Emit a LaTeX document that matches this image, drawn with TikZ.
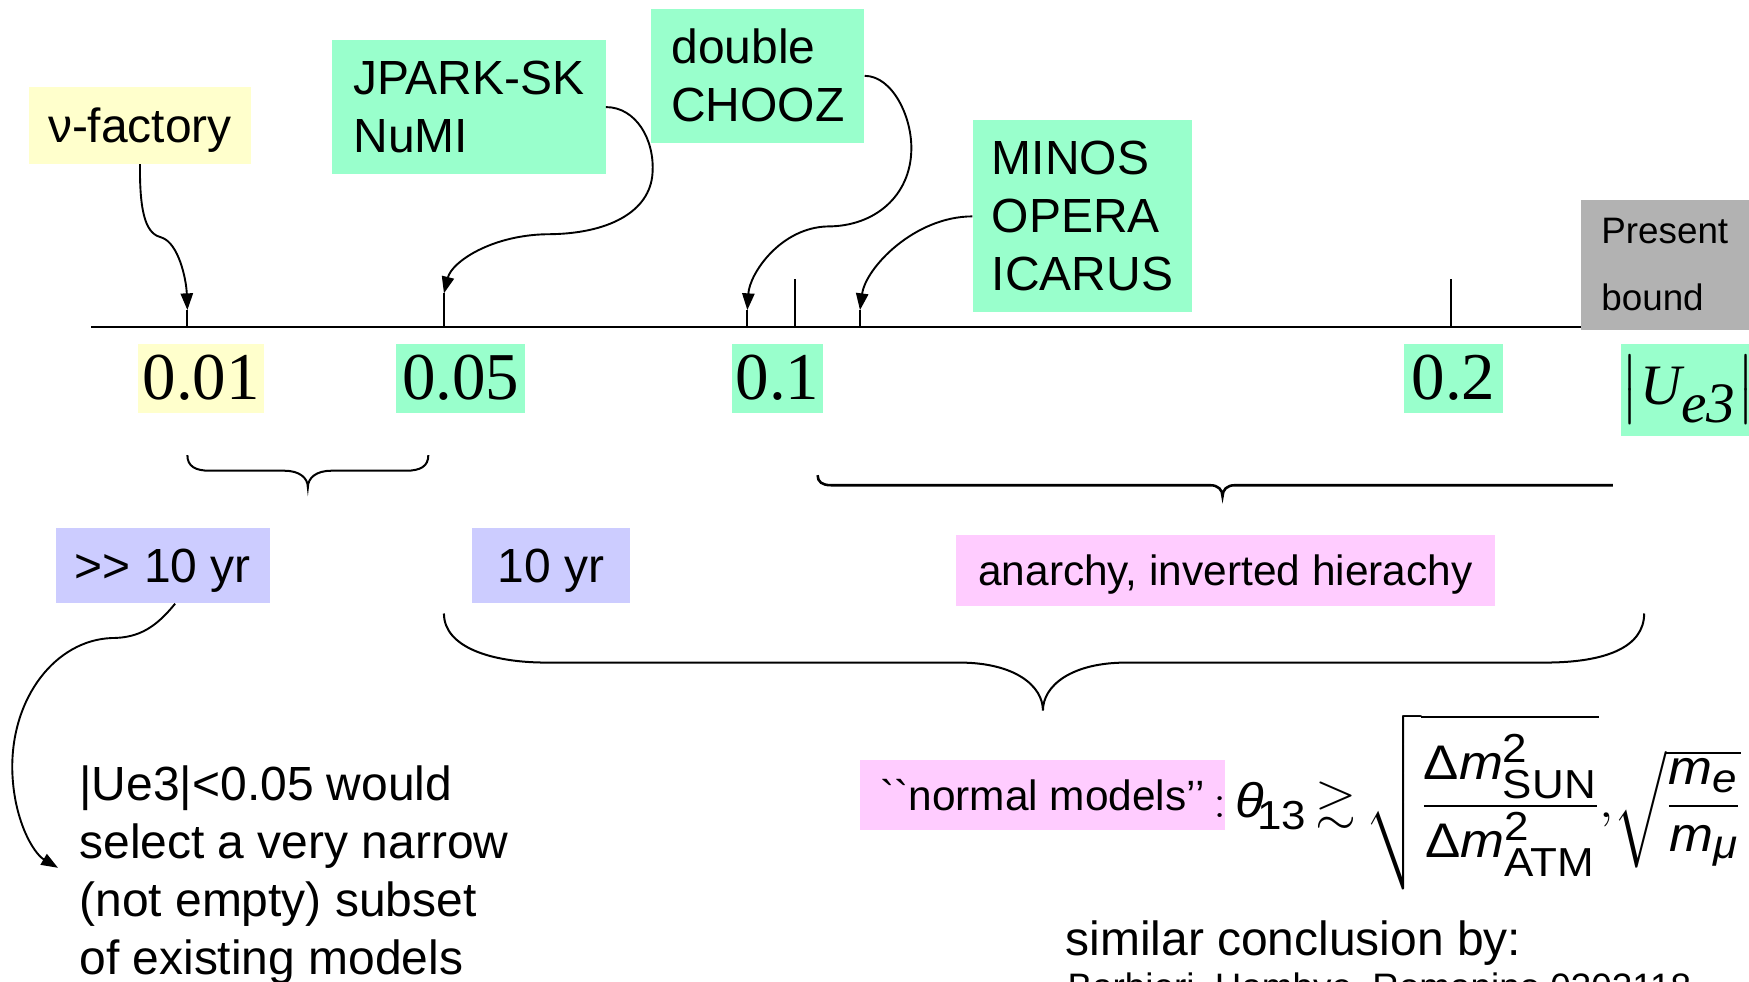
\documentclass[tikz,border=0pt]{standalone}
\usepackage{amsmath,amssymb}
\usepackage{graphicx}
\usepackage{fontspec}
\setmainfont{Liberation Sans}
\newfontfamily\tms{Liberation Serif}
\newfontfamily\rawsans{Liberation Sans}
\usetikzlibrary{arrows.meta}
\definecolor{cyel}{HTML}{FFFFCC}
\definecolor{cgrn}{HTML}{99FFCC}
\definecolor{cgry}{HTML}{B2B2B2}
\definecolor{clav}{HTML}{CCCCFF}
\definecolor{cpnk}{HTML}{FFCCFF}
\newcommand{\mym}{\text{\itshape m}}
\tikzset{
 lbox/.style={inner sep=0pt, align=left, font=\fontsize{43}{52}\selectfont},
 onel/.style={text depth=0pt},
 numbox/.style={fill=cgrn, inner sep=0pt, font=\tms\fontsize{60}{60}\selectfont},
 conn/.style={line width=1.7pt, -{Triangle[length=15pt,width=11pt]}},
 tickln/.style={line width=1.7pt},
 axisln/.style={line width=2.3pt},
 bracel/.style={line width=1.8pt},
 plaintext/.style={inner sep=0pt, font=\fontsize{43}{52}\selectfont},
}
\begin{document}
\begin{tikzpicture}[x=1pt,y=-1pt]
\useasboundingbox (0,0) rectangle (1568,880);
\clip (0,0) rectangle (1568,880);
% axis
\coordinate (axL) at (82,293);
\coordinate (axR) at (1417,293);
\draw[axisln] (axL) -- (axR);
% experiment boxes
\node[lbox,onel,fill=cyel,minimum width=199pt,minimum height=69pt] (nf) at (125.5,112.5) {ν-factory};
\node[lbox,fill=cgrn,minimum width=245pt,minimum height=120pt] (jp) at (420.5,96) {JPARK-SK\\NuMI};
\node[lbox,fill=cgrn,minimum width=191pt,minimum height=120pt] (dc) at (679.5,68) {double\\CHOOZ};
\node[lbox,fill=cgrn,minimum width=197pt,minimum height=172pt] (mi) at (970.5,194) {MINOS\\OPERA\\ICARUS};
\node[lbox,fill=cgry,minimum width=151pt,minimum height=117pt,font=\fontsize{33}{60}\selectfont] (pb) at (1492.5,237.5) {Present\\bound};
% ticks
\coordinate (k1) at (168,293); \coordinate (h1) at (168,278);
\coordinate (k2) at (398,293); \coordinate (h2) at (398,263);
\coordinate (k3) at (670,293); \coordinate (h3) at (670,278);
\coordinate (k4) at (713,293); \coordinate (h4) at (713,250);
\coordinate (k5) at (771,293); \coordinate (h5) at (771,278);
\coordinate (k6) at (1301,293); \coordinate (h6) at (1301,250);
\foreach \i in {1,...,6} \draw[tickln] (k\i) -- (h\i);
% arrows to the axis
\draw[conn] (nf.south) .. controls (125,195) and (132,210) .. (145,213) .. controls (160,218) and (167,250) .. (h1);
\draw[conn] (jp.east) .. controls (570,96) and (587,125) .. (585,155) .. controls (583,190) and (545,210) .. (490,210) .. controls (440,211) and (405,235) .. (h2);
\draw[conn] (dc.east) .. controls (800,68) and (818,105) .. (817,135) .. controls (816,175) and (785,203) .. (742,203) .. controls (700,204) and (672,245) .. (h3);
\draw[conn] (mi.west) .. controls (820,194) and (776,240) .. (h5);
% value labels
\node[numbox,fill=cyel,minimum width=113pt,minimum height=62pt] (n1) at (180.5,339) {0.01};
\node[numbox,minimum width=116pt,minimum height=62pt] (n2) at (413,339) {0.05};
\node[numbox,minimum width=82pt,minimum height=62pt] (n3) at (697,339) {0.1};
\node[numbox,minimum width=88pt,minimum height=62pt] (n4) at (1303,339) {0.2};
\node[numbox,minimum width=109pt,minimum height=83pt,font=\tms\fontsize{25}{25}\selectfont] (ue) at (1513.5,349.5) {\scalebox{2.05}{$\left|\text{\itshape U}_{\raisebox{-2pt}{\text{\itshape e3}}}\right|$}};
% braces
\draw[bracel] (168,408) .. controls (168,418) and (175,422) .. (188,422) -- (255,422) .. controls (268,422) and (276,428) .. (276,437) .. controls (276,428) and (284,422) .. (297,422) -- (364,422) .. controls (377,422) and (384,418) .. (384,408);
\draw[bracel,line width=2.3pt] (733,426) .. controls (733,432) and (737,435) .. (745,435) -- (1085,435) .. controls (1092,435) and (1096,439) .. (1096,445) .. controls (1096,439) and (1100,435) .. (1107,435) -- (1446,435);
\draw[bracel] (398,550) .. controls (398,580) and (440,594) .. (490,594) -- (860,594) .. controls (910,594) and (935,615) .. (935,637) .. controls (935,615) and (960,594) .. (1010,594) -- (1385,594) .. controls (1440,594) and (1474,580) .. (1474,550);
% time boxes
\node[lbox,onel,fill=clav,minimum width=192pt,minimum height=68pt] (ya) at (146,507) {>\kern0pt> 10 yr};
\node[lbox,onel,fill=clav,minimum width=142pt,minimum height=68pt] (yb) at (494,507) {10 yr};
\node[lbox,onel,fill=cpnk,minimum width=483pt,minimum height=63pt,font=\fontsize{38}{46}\selectfont] (an) at (1098.5,511.5) {anarchy, inverted hierachy};
% left text
\node[plaintext,anchor=north west,align=left] (tx) at (71,686) {|Ue3|<0.05 would\\select a very narrow\\(not empty) subset\\of existing models};
\coordinate (te) at (52,778);
\draw[conn] ([xshift=11pt]ya.south) .. controls (140,562) and (125,572) .. (100,572) .. controls (50,574) and (10,625) .. (11,690) .. controls (12,735) and (30,765) .. (te);
% normal models
\node[lbox,onel,fill=cpnk,minimum width=327pt,minimum height=63pt,font=\rawsans\fontsize{38}{46}\selectfont] (nm) at (934.5,712.5) {`\kern0pt`normal models’’};
\node[anchor=west,inner sep=0pt,font=\fontsize{24.88}{25}\selectfont] (fm) at (1088,719) {\scalebox{1.9}[1.75]{${:}\,\text{\itshape θ}_{\!\text{13}}\,{\gtrsim}\,\sqrt{\dfrac{\text{Δ}\mym^{\text{2}}_{\text{SUN}}}{\text{Δ}\mym^{\text{2}}_{\text{ATM}}}}{,}\sqrt{\dfrac{\mym_{\text{\itshape e}}}{\mym_{\text{\itshape μ}}}}$}};
% reference
\node[plaintext,anchor=base west] (s1) at (955,857) {similar conclusion by:};
\node[plaintext,anchor=base west,font=\fontsize{33}{40}\selectfont] (s2) at (957,896) {Barbieri, Hambye, Romanino 0302118};
\end{tikzpicture}
\end{document}
